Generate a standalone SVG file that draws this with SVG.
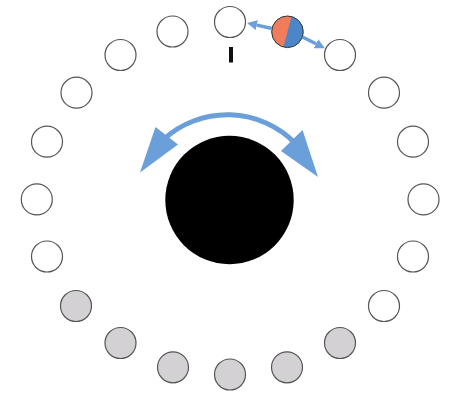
<svg xmlns="http://www.w3.org/2000/svg" width="450" height="398" viewBox="0 0 450 398">
<defs>
<style>
.pos{fill:#ffffff;stroke:#555555;stroke-width:1.2}
.gray{fill:#d4d1d5;stroke:#555555;stroke-width:1.2}
.blue{fill:#6a9fd9}
.shaft{fill:none;stroke:#6a9fd9}
</style>
<marker id="ah" viewBox="0 0 10 10" refX="0" refY="5" markerWidth="10" markerHeight="10" markerUnits="userSpaceOnUse" orient="auto">
<path d="M0,0 L10,5 L0,10 Z" fill="#6a9fd9"/>
</marker>
</defs>
<rect width="450" height="398" fill="#ffffff"/>
<g id="positions">
<g id="p0"><circle class="pos" cx="230" cy="22" r="15.5"/></g>
<g id="p1"><circle class="pos" cx="172.5" cy="31.5" r="15.5"/></g>
<g id="p2"><circle class="pos" cx="120.5" cy="55" r="15.5"/></g>
<g id="p3"><circle class="pos" cx="76.5" cy="92.7" r="15.5"/></g>
<g id="p4"><circle class="pos" cx="47" cy="141.7" r="15.5"/></g>
<g id="p5"><circle class="pos" cx="36.8" cy="199.4" r="15.5"/></g>
<g id="p6"><circle class="pos" cx="47" cy="256.5" r="15.5"/></g>
<g id="p7"><circle class="gray" cx="76" cy="306" r="15.5"/></g>
<g id="p8"><circle class="gray" cx="120.5" cy="343" r="15.5"/></g>
<g id="p9"><circle class="gray" cx="173" cy="367.3" r="15.5"/></g>
<g id="p10"><circle class="gray" cx="230" cy="374.5" r="15.5"/></g>
<g id="p11"><circle class="gray" cx="287" cy="367.3" r="15.5"/></g>
<g id="p12"><circle class="gray" cx="340" cy="343" r="15.5"/></g>
<g id="p13"><circle class="pos" cx="384" cy="306" r="15.5"/></g>
<g id="p14"><circle class="pos" cx="413" cy="256.5" r="15.5"/></g>
<g id="p15"><circle class="pos" cx="423.5" cy="199.4" r="15.5"/></g>
<g id="p16"><circle class="pos" cx="413" cy="141.7" r="15.5"/></g>
<g id="p17"><circle class="pos" cx="384" cy="92.7" r="15.5"/></g>
<g id="p18"><circle class="pos" cx="340" cy="55" r="15.5"/></g>
</g>
<g id="tick"><rect x="229" y="47" width="4" height="15.5" fill="#111111"/></g>
<g id="knob"><circle cx="229.5" cy="200" r="64.2" fill="#000000"/></g>
<g id="mover">
<circle cx="287.5" cy="31.8" r="15.8" fill="#4a86c8"/>
<path d="M291.6,16.5 A15.8,15.8 0 0 0 283.4,47.1 Z" fill="#f07c5c"/>
<circle cx="287.5" cy="31.8" r="15.8" fill="none" stroke="#333333" stroke-width="1"/>
</g>
<g id="connectors">
<line class="shaft" stroke-width="3.5" x1="272" y1="28.5" x2="256.8" y2="25.1" marker-end="url(#ah)"/>
<line class="shaft" stroke-width="3.5" x1="302.5" y1="37" x2="316" y2="43.7" marker-end="url(#ah)"/>
<path class="shaft" stroke-width="5" d="M164,139 A95,95 0 0 1 295,143"/>
<polygon class="blue" points="155.5,127 178,144.5 140,172.5"/>
<polygon class="blue" points="302.5,130 281,151 318,177"/>
</g>
</svg>
